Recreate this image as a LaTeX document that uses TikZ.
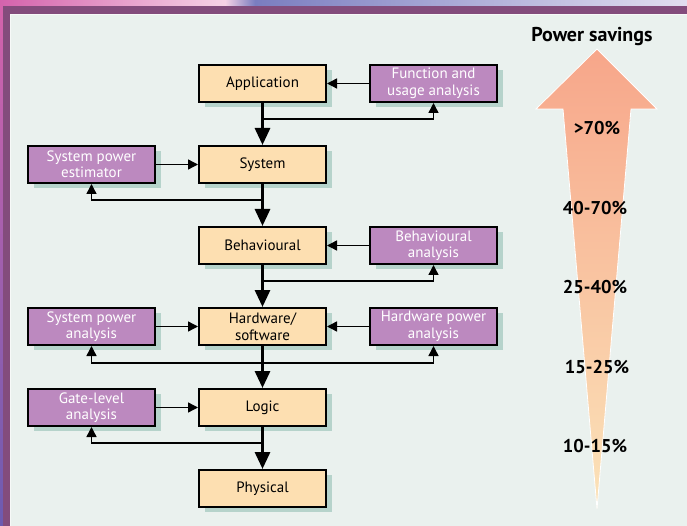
\documentclass[tikz,border=0pt]{standalone}
\usepackage{fontspec}
\setmainfont{PT Sans}
\usetikzlibrary{arrows.meta, positioning, calc, shadows}
\definecolor{framepurple}{HTML}{834C7C}
\definecolor{paper}{HTML}{EAF1EE}
\definecolor{levelfill}{HTML}{FDDFB1}
\definecolor{toolfill}{HTML}{BC89BF}
\definecolor{shadowgreen}{HTML}{B6D3CB}
\definecolor{saltop}{HTML}{F7A68A}
\definecolor{salbot}{HTML}{FBE3B9}
\definecolor{stripa}{HTML}{D463AC}
\definecolor{stripb}{HTML}{F6D2E6}
\definecolor{stripc}{HTML}{7A7DC0}
\definecolor{stripd}{HTML}{E2DEF0}
\definecolor{stripe}{HTML}{6C5BB0}
\tikzset{%
	level/.style={draw, line width=2pt, fill=levelfill, minimum width=127pt, minimum height=37pt,%
		inner sep=0pt, align=center, font=\fontsize{15}{16.5}\selectfont,%
		drop shadow={shadow xshift=6pt, shadow yshift=-5pt, fill=shadowgreen, opacity=1}},
	tool/.style={level, fill=toolfill, text=white},
	flow/.style={line width=3pt, -{Triangle[width=15pt, length=17pt]}},
	fb/.style={line width=1.4pt, -{Triangle[width=10pt, length=10pt]}},
	pct/.style={font=\bfseries\fontsize{18.5}{18.5}\selectfont, inner sep=0pt}
}
\begin{document}
\begin{tikzpicture}[x=1pt, y=-1pt, node distance=42pt and 42pt]
			\useasboundingbox (0,0) rectangle (687,526);
			% frame
			\fill[paper] (0,0) rectangle (687,526);
			\shade[left color=stripa, right color=stripb] (0,0) rectangle (225,6);
			\shade[left color=stripb, right color=stripc] (225,0) rectangle (255,6);
			\shade[left color=stripc, right color=stripd] (255,0) rectangle (687,6);
			\shade[top color=stripa, bottom color=stripe] (0,6) rectangle (3,526);
			\fill[framepurple] (3,6) rectangle (687,14);
			\fill[framepurple] (3,6) rectangle (10,526);
			\draw[white!60!paper, line width=0.8pt] (10.4,526) -- (10.4,14.4) -- (687,14.4);

			% design levels
			\node[level] (app) at (262.5,83.5) {Application};
			\node[level] (sys) [below=of app] {System};
			\node[level] (beh) [below=of sys] {Behavioural};
			\node[level] (hw)  [below=of beh] {Hardware/\\software};
			\node[level] (log) [below=of hw]  {Logic};
			\node[level] (phy) [below=of log] {Physical};

			% analysis tools
			\node[tool] (fua) [right=of app] {Function and\\usage analysis};
			\node[tool] (spe) [left=of sys]  {System power\\estimator};
			\node[tool] (bha) [right=of beh] {Behavioural\\analysis};
			\node[tool] (spa) [left=of hw]   {System power\\analysis};
			\node[tool] (hpa) [right=of hw]  {Hardware power\\analysis};
			\node[tool] (gla) [left=of log]  {Gate-level\\analysis};

			\draw [fb] (fua) to (app);
			\draw [fb] (spe) to (sys);
			\draw [fb] (bha) to (beh);
			\draw [fb] (spa) to (hw);
			\draw [fb] (hpa) to (hw);
			\draw [fb] (gla) to (log);
			\draw [fb] ($(app.south)+(0,16)$) -| (fua.south);
			\draw [fb] ($(sys.south)+(0,16)$) -| (spe.south);
			\draw [fb] ($(beh.south)+(0,16)$) -| (bha.south);
			\draw [fb] ($(hw.south)+(0,17)$)  -| (spa.south);
			\draw [fb] ($(hw.south)+(0,17)$)  -| (hpa.south);
			\draw [fb] ($(log.south)+(0,16)$) -| (gla.south);

			\draw [flow] (app) to (sys);
			\draw [flow] (sys) to (beh);
			\draw [flow] (beh) to (hw);
			\draw [flow] (hw) to (log);
			\draw [flow] (log) to (phy);

			% power savings
			\shade[top color=saltop, bottom color=salbot, draw=white, line width=0.8pt]
				(597,49) -- (657,109) -- (631,109) -- (597,509) -- (563,109) -- (536,109) -- cycle;
			\node[font=\bfseries\fontsize{20}{20}\selectfont, inner sep=0pt] (title) at (592,37) {Power savings};
			\node[pct] (s1) at (597,128) {>70\%};
			\node[pct] (s2) at (595,208) {40-70\%};
			\node[pct] (s3) at (595,287) {25-40\%};
			\node[pct] (s4) at (597,367) {15-25\%};
			\node[pct] (s5) at (595,446) {10-15\%};
\end{tikzpicture}
\end{document}
